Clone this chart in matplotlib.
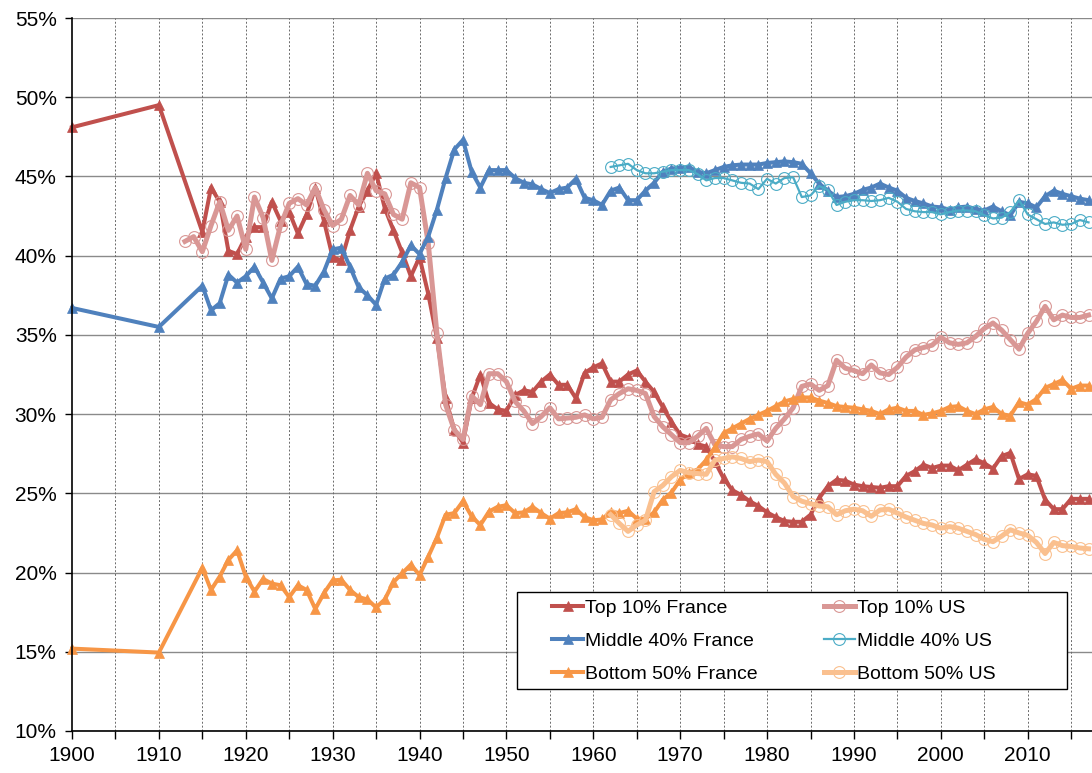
import matplotlib
matplotlib.use("Agg")
import matplotlib.pyplot as plt
from matplotlib.patches import Rectangle
import matplotlib.ticker as mticker

plt.rcParams['font.family'] = ['Liberation Sans', 'DejaVu Sans']

# ---------------- data ----------------
years_fr = [1900, 1910] + list(range(1915, 2018))
years_us_top = list(range(1913, 2018))
years_us_mid = list(range(1962, 2018))
years_us_bot = list(range(1962, 2018))

top10_fr = [48.1, 49.5,
    41.5, 44.3, 43.4, 40.3, 40.1, 41.2, 41.8, 41.8, 43.4, 42.2,
    42.75, 41.4, 42.6, 44.3, 42.2, 39.9, 39.7, 41.6, 43.1, 44.1,
    45.2, 43.0, 41.6, 40.2, 38.7, 39.9, 37.6, 34.8, 31.0, 29.0,
    28.2, 31.0, 32.5, 30.7, 30.3, 30.2, 31.2, 31.5, 31.4, 32.05,
    32.5, 31.85, 31.85, 31.0, 32.6, 32.95, 33.2, 32.05, 32.05, 32.5,
    32.75, 32.05, 31.4, 30.45, 29.5, 28.7, 28.5, 28.1, 27.95, 27.0,
    25.95, 25.2, 24.9, 24.5, 24.2, 23.8, 23.5, 23.25, 23.2, 23.2,
    23.65, 24.7, 25.45, 25.85, 25.8, 25.55, 25.45, 25.4, 25.35, 25.45,
    25.45, 26.1, 26.4, 26.8, 26.6, 26.75, 26.75, 26.45, 26.8, 27.15,
    26.9, 26.55, 27.35, 27.55, 25.9, 26.2, 26.1, 24.6, 24.0, 24.0,
    24.65, 24.65, 24.65]

mid40_fr = [36.7, 35.5,
    38.1, 36.55, 37.0, 38.8, 38.3, 38.7, 39.3, 38.3, 37.3, 38.55,
    38.7, 39.3, 38.2, 38.1, 39.0, 40.4, 40.5, 39.3, 38.0, 37.5,
    36.9, 38.55, 38.8, 39.6, 40.65, 40.1, 41.2, 42.9, 44.9, 46.7,
    47.3, 45.3, 44.3, 45.4, 45.4, 45.4, 44.9, 44.6, 44.5, 44.2,
    43.95, 44.2, 44.3, 44.85, 43.65, 43.5, 43.2, 44.1, 44.3, 43.5,
    43.5, 44.1, 44.6, 45.3, 45.5, 45.55, 45.6, 45.3, 45.2, 45.4,
    45.6, 45.7, 45.75, 45.75, 45.75, 45.85, 45.9, 45.95, 45.9, 45.8,
    45.2, 44.55, 44.1, 43.7, 43.75, 43.9, 44.15, 44.3, 44.55, 44.3,
    44.1, 43.65, 43.45, 43.3, 43.1, 43.05, 42.9, 43.05, 43.1, 42.95,
    42.85, 43.1, 42.8, 42.55, 43.4, 43.3, 43.05, 43.75, 44.1, 43.9,
    43.75, 43.6, 43.5]

bot50_fr = [15.2, 14.95,
    20.3, 18.9, 19.75, 20.8, 21.4, 19.75, 18.8, 19.6, 19.3, 19.2,
    18.45, 19.2, 18.9, 17.7, 18.7, 19.5, 19.55, 18.9, 18.45, 18.3,
    17.8, 18.3, 19.4, 19.95, 20.5, 19.85, 21.0, 22.2, 23.65, 23.75,
    24.5, 23.55, 23.0, 23.85, 24.15, 24.25, 23.75, 23.8, 24.15, 23.75,
    23.4, 23.75, 23.8, 24.0, 23.5, 23.3, 23.35, 23.85, 23.75, 23.9,
    23.4, 23.4, 23.8, 24.6, 25.05, 25.85, 26.3, 26.5, 27.1, 27.9,
    28.8, 29.1, 29.4, 29.7, 29.95, 30.2, 30.5, 30.8, 30.95, 31.05,
    31.05, 30.85, 30.7, 30.5, 30.45, 30.4, 30.3, 30.2, 30.0, 30.3,
    30.4, 30.2, 30.2, 29.95, 30.05, 30.2, 30.45, 30.5, 30.2, 30.0,
    30.3, 30.45, 30.0, 29.9, 30.75, 30.6, 30.95, 31.65, 31.9, 32.15,
    31.6, 31.8, 31.8]

top10_us = [40.9, 41.2,
    40.25, 41.9, 43.4, 41.6, 42.5, 40.4, 43.7, 42.4, 39.7, 41.9,
    43.3, 43.6, 43.2, 44.3, 42.9, 41.9, 42.3, 43.8, 43.2, 45.2,
    44.1, 43.9, 42.6, 42.3, 44.6, 44.3, 40.8, 35.1, 30.6, 29.0,
    28.4, 31.15, 30.6, 32.55, 32.55, 32.05, 30.8, 30.2, 29.4, 29.85,
    30.4, 29.7, 29.75, 29.8, 29.95, 29.7, 29.8, 30.9, 31.3, 31.6,
    31.5, 31.3, 29.85, 29.2, 28.7, 28.2, 28.2, 28.6, 29.1, 28.05,
    27.95, 27.95, 28.4, 28.6, 28.75, 28.3, 29.1, 29.7, 30.4, 31.75,
    31.9, 31.5, 31.8, 33.4, 32.9, 32.75, 32.55, 33.1, 32.6, 32.5,
    32.95, 33.6, 34.05, 34.2, 34.35, 34.85, 34.5, 34.4, 34.5, 34.9,
    35.4, 35.75, 35.3, 34.7, 34.1, 35.1, 35.85, 36.8, 35.95, 36.25,
    36.1, 36.1, 36.25]

mid40_us = [45.6, 45.7, 45.8,
    45.4, 45.2, 45.2, 45.3, 45.4, 45.4, 45.4, 45.15, 44.75, 44.9,
    44.9, 44.75, 44.6, 44.55, 44.2, 44.85, 44.55, 44.9, 44.95, 43.7,
    43.8, 44.4, 44.15, 43.2, 43.4, 43.5, 43.5, 43.45, 43.5, 43.65,
    43.4, 42.95, 42.8, 42.75, 42.75, 42.6, 42.75, 42.85, 42.85, 42.8,
    42.55, 42.35, 42.4, 42.75, 43.5, 42.6, 42.3, 42.0, 42.1, 41.95,
    42.0, 42.25, 42.1]

bot50_us = [23.65, 23.1, 22.6,
    23.0, 23.3, 25.1, 25.5, 26.05, 26.45, 26.3, 26.25, 26.2, 27.1,
    27.2, 27.3, 27.2, 27.0, 27.1, 27.0, 26.2, 25.65, 24.8, 24.5,
    24.35, 24.2, 24.15, 23.65, 23.9, 24.0, 23.9, 23.55, 23.95, 24.0,
    23.75, 23.5, 23.3, 23.1, 23.0, 22.8, 22.9, 22.8, 22.6, 22.4,
    22.1, 21.95, 22.3, 22.7, 22.5, 22.35, 21.9, 21.2, 21.9, 21.7,
    21.65, 21.55, 21.5]

labels = ["Top 10% France", "Top 10% US", "Middle 40% France",
          "Middle 40% US", "Bottom 50% France", "Bottom 50% US"]
colors = ["#C0504D", "#D99795", "#4F81BD", "#4BACC6", "#F79646", "#FAC08F"]

y_ticks = [10, 15, 20, 25, 30, 35, 40, 45, 50, 55]

# ---------------- figure ----------------
W, H = 1092, 773
fig = plt.figure(figsize=(W / 100, H / 100), dpi=100)
ax = fig.add_axes([72 / W, 1 - 731 / H, (W - 72) / W, (731 - 18) / H])

ax.set_xlim(1900, 2017.4)
ax.set_ylim(10, 55)

# grid
for yv in y_ticks:
    ax.axhline(yv, color="#8a8a8a", lw=1.0, zorder=0.5)
for xv in range(1905, 2018, 5):
    ax.axvline(xv, color="#6a6a6a", lw=0.7, ls=(0, (2.0, 2.0)), zorder=0.5)

fr_kw = dict(lw=2.9, marker="^", ms=7.5, mew=0.5, clip_on=False)
us_kw_thick = dict(lw=3.6, marker="o", ms=8.5, mew=0.8, clip_on=False)
us_kw_thin = dict(lw=1.6, marker="o", ms=8.5, mew=0.8, clip_on=False)

series = [
    (years_fr, top10_fr, fr_kw, True),
    (years_us_top, top10_us, us_kw_thick, False),
    (years_fr, mid40_fr, fr_kw, True),
    (years_us_mid, mid40_us, us_kw_thin, False),
    (years_fr, bot50_fr, fr_kw, True),
    (years_us_bot, bot50_us, us_kw_thick, False),
]
handles = {}
for i, ((xs, ys, kw, filled), lab, col) in enumerate(zip(series, labels, colors)):
    ln, = ax.plot(xs, ys, color=col, mec=col, mfc=col if filled else "none",
                  label=lab, zorder=2 + i, **kw)
    handles[lab] = ln

# axes styling
for s in ["top", "right"]:
    ax.spines[s].set_visible(False)
for s in ["left", "bottom"]:
    ax.spines[s].set_color("black")
    ax.spines[s].set_linewidth(1.2)
    ax.spines[s].set_zorder(10)

ax.set_xticks(list(range(1900, 2018, 5)))
ax.set_xticklabels([str(y) if y % 10 == 0 else "" for y in range(1900, 2018, 5)])
ax.set_yticks(y_ticks)
ax.yaxis.set_major_formatter(mticker.FuncFormatter(lambda v, p: f"{int(v)}%"))
ax.tick_params(axis="x", length=6, width=1, pad=5, labelsize=15, colors="black")
ax.tick_params(axis="y", length=5, width=1, pad=6, labelsize=15, colors="black")

# legend box
fig.patches.append(Rectangle((517 / W, 1 - 689 / H), (1067 - 517) / W, (689 - 592) / H,
                             transform=fig.transFigure, facecolor="white",
                             edgecolor="black", lw=1.0, zorder=20))
order = ["Top 10% France", "Middle 40% France", "Bottom 50% France",
         "Top 10% US", "Middle 40% US", "Bottom 50% US"]
leg = fig.legend([handles[k] for k in order], order, ncol=2,
                 loc="upper left", bbox_to_anchor=(552 / W, 1 - 599 / H),
                 frameon=False, borderpad=0, borderaxespad=0,
                 handlelength=1.6, handletextpad=0.1, columnspacing=3.4,
                 labelspacing=0.8, fontsize=14)
leg.set_zorder(30)

fig.savefig("out.png", dpi=100)
